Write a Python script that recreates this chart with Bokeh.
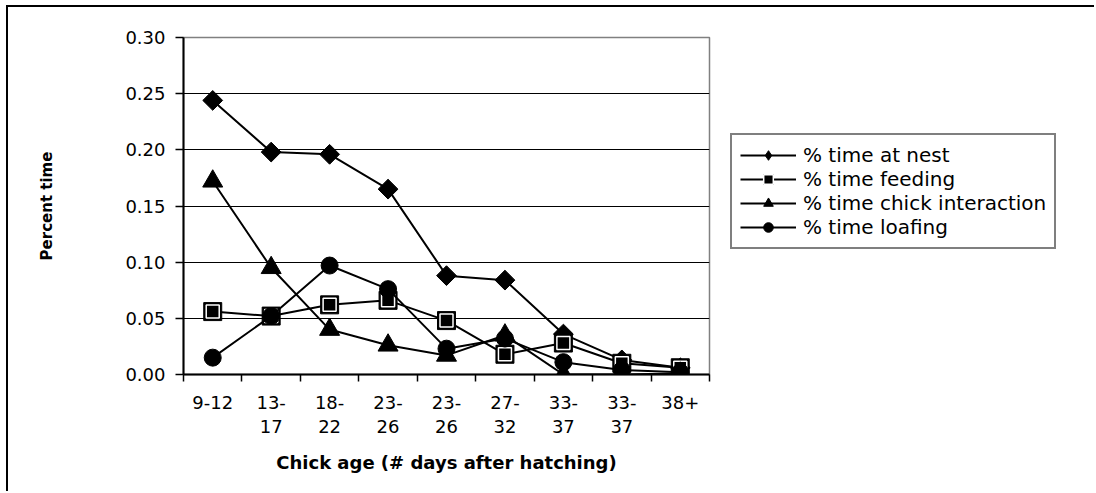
import numpy as np
from bokeh.plotting import figure
from bokeh.layouts import row
from bokeh.models import Range1d, FixedTicker, NumeralTickFormatter, Legend, LegendItem
from bokeh.embed import file_html
from bokeh.resources import INLINE

# ---- data ----
ages = ["9-12", "13-\n17", "18-\n22", "23-\n26", "23-\n26", "27-\n32", "33-\n37", "33-\n37", "38+"]
nest = [0.244, 0.198, 0.196, 0.165, 0.088, 0.084, 0.036, 0.013, 0.006]
feeding = [0.056, 0.052, 0.062, 0.066, 0.048, 0.018, 0.028, 0.010, 0.006]
chick = [0.172, 0.095, 0.040, 0.026, 0.017, 0.035, 0.000, 0.000, 0.001]
loafing = [0.015, 0.052, 0.097, 0.076, 0.023, 0.032, 0.011, 0.004, 0.002]
y_ticks = [0.0, 0.05, 0.10, 0.15, 0.20, 0.25, 0.30]
series_names = ["% time at nest", "% time feeding", "% time chick interaction", "% time loafing"]

x = [i + 0.5 for i in range(len(ages))]
bounds = list(range(len(ages) + 1))

FONT = "DejaVu Sans"

p = figure(width=710, height=486, output_backend="svg", toolbar_location=None,
           x_range=Range1d(0, len(ages)), y_range=Range1d(0, 0.30),
           min_border_left=175, min_border_top=30, min_border_bottom=117, min_border_right=9)

p.background_fill_color = "white"
p.border_fill_color = "white"
p.outline_line_color = "#808080"
p.outline_line_width = 1.5

# x axis
p.xaxis.ticker = FixedTicker(ticks=x, minor_ticks=bounds)
p.xaxis.major_label_overrides = {xi: lab for xi, lab in zip(x, ages)}
p.xaxis.major_tick_out = 0
p.xaxis.major_tick_in = 0
p.xaxis.minor_tick_out = 7
p.xaxis.minor_tick_in = 0
p.xaxis.minor_tick_line_color = "black"
p.xaxis.minor_tick_line_width = 1.5
p.xaxis.axis_line_color = "black"
p.xaxis.axis_line_width = 2
p.xaxis.major_label_text_font = FONT
p.xaxis.major_label_text_font_size = "18px"
p.xaxis.major_label_text_color = "black"
p.xaxis.major_label_text_line_height = 1.15
p.xaxis.major_label_standoff = 10
p.xaxis.axis_label = "Chick age (# days after hatching)"
p.xaxis.axis_label_text_font = FONT
p.xaxis.axis_label_text_font_size = "18px"
p.xaxis.axis_label_text_font_style = "bold"
p.xaxis.axis_label_text_color = "black"
p.xaxis.axis_label_standoff = 12

# y axis
p.yaxis.ticker = FixedTicker(ticks=y_ticks)
p.yaxis.formatter = NumeralTickFormatter(format="0.00")
p.yaxis.major_tick_out = 8
p.yaxis.major_tick_in = 0
p.yaxis.minor_tick_out = 0
p.yaxis.minor_tick_in = 0
p.yaxis.major_tick_line_color = "black"
p.yaxis.major_tick_line_width = 1.5
p.yaxis.axis_line_color = "black"
p.yaxis.axis_line_width = 2
p.yaxis.major_label_text_font = FONT
p.yaxis.major_label_text_font_size = "18px"
p.yaxis.major_label_text_color = "black"
p.yaxis.major_label_standoff = 10
p.yaxis.axis_label = "Percent time"
p.yaxis.axis_label_text_font = FONT
p.yaxis.axis_label_text_font_size = "15px"
p.yaxis.axis_label_text_font_style = "bold"
p.yaxis.axis_label_text_color = "black"
p.yaxis.axis_label_standoff = 66

# grid
p.xgrid.visible = False
p.ygrid.ticker = FixedTicker(ticks=y_ticks)
p.ygrid.grid_line_color = "black"
p.ygrid.grid_line_width = 1

LW = 2
# at nest (diamond)
p.line(x, nest, line_color="black", line_width=LW)
p.scatter(x, nest, marker="square", angle=np.pi / 4, size=14, fill_color="black", line_color="black")
# feeding (square, white inner border)
p.line(x, feeding, line_color="black", line_width=LW)
p.scatter(x, feeding, marker="square", size=18, fill_color="black", line_color="black")
p.scatter(x, feeding, marker="square", size=13, fill_color="black", line_color="white", line_width=1.5)
# chick interaction (triangle)
p.line(x, chick, line_color="black", line_width=LW)
p.scatter(x, chick, marker="triangle", size=20, fill_color="black", line_color="black")
# loafing (circle)
p.line(x, loafing, line_color="black", line_width=LW)
p.scatter(x, loafing, marker="circle", size=17, fill_color="black", line_color="black")

# ---- legend panel (separate figure, key glyphs only) ----
p2 = figure(width=378, height=486, output_backend="svg", toolbar_location=None,
            x_axis_type=None, y_axis_type=None, x_range=Range1d(0, 1), y_range=Range1d(0, 1),
            min_border_left=0, min_border_right=0, min_border_top=0, min_border_bottom=0)
p2.outline_line_color = None
p2.grid.visible = False
p2.background_fill_color = "white"
p2.border_fill_color = "white"

nan = [np.nan]
k1l = p2.line(nan, nan, line_color="black", line_width=LW)
k1m = p2.scatter(nan, nan, marker="diamond", size=18, fill_color="black", line_color="black")
k2l = p2.line(nan, nan, line_color="black", line_width=LW)
k2a = p2.scatter(nan, nan, marker="square", size=17, fill_color="black", line_color="black")
k2b = p2.scatter(nan, nan, marker="square", size=12, fill_color="black", line_color="white", line_width=1.5)
k3l = p2.line(nan, nan, line_color="black", line_width=LW)
k3m = p2.scatter(nan, nan, marker="triangle", size=18, fill_color="black", line_color="black")
k4l = p2.line(nan, nan, line_color="black", line_width=LW)
k4m = p2.scatter(nan, nan, marker="circle", size=16, fill_color="black", line_color="black")

legend = Legend(items=[
    LegendItem(label=series_names[0], renderers=[k1l, k1m]),
    LegendItem(label=series_names[1], renderers=[k2l, k2a, k2b]),
    LegendItem(label=series_names[2], renderers=[k3l, k3m]),
    LegendItem(label=series_names[3], renderers=[k4l, k4m]),
], location=(12, 125))
legend.border_line_color = "black"
legend.border_line_width = 2
legend.background_fill_color = "white"
legend.background_fill_alpha = 1
legend.label_text_font = FONT
legend.label_text_font_size = "20px"
legend.label_text_color = "black"
legend.glyph_width = 56
legend.glyph_height = 24
legend.label_height = 24
legend.spacing = 0
legend.padding = 8
legend.margin = 0
legend.label_standoff = 7
p2.add_layout(legend, "center")

layout = row(p, p2, width=1088, height=486, margin=(5, 0, 0, 6),
             styles={"border-left": "2px solid black", "border-top": "2px solid black",
                     "background-color": "white"})

open("out.html", "w").write(file_html(layout, INLINE))
